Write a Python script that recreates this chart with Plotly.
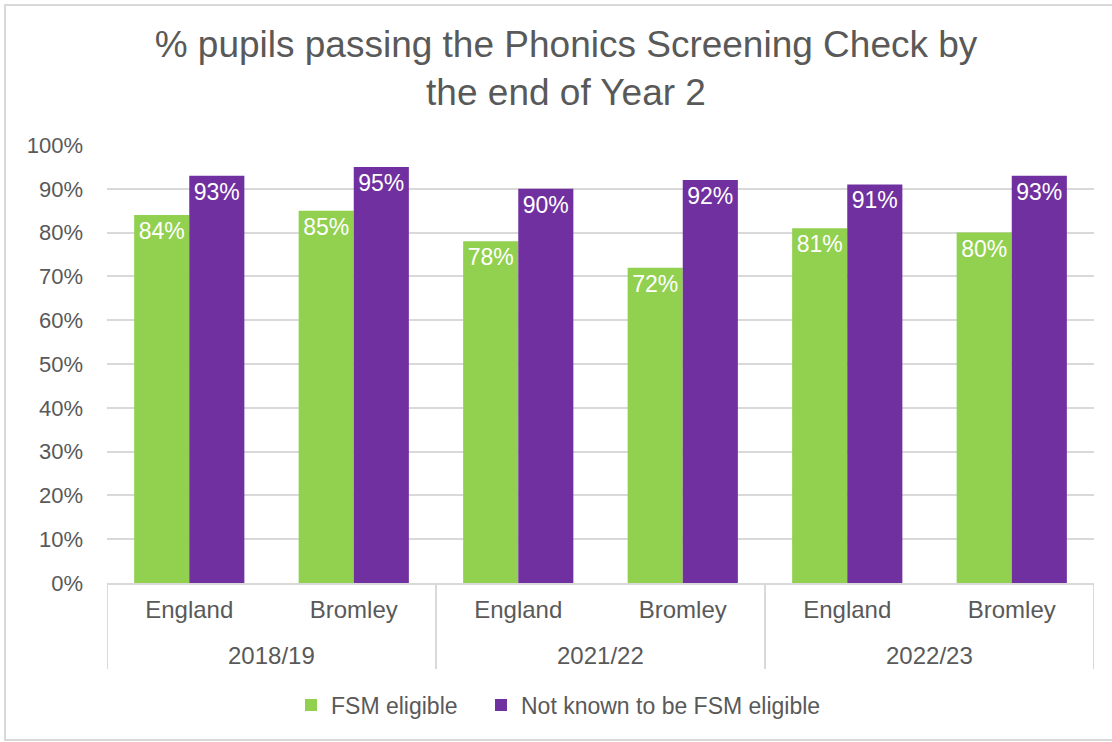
import plotly.graph_objects as go

# Data
years = ["2018/19", "2021/22", "2022/23"]
areas = ["England", "Bromley"]
fsm_eligible = [84, 85, 78, 72, 81, 80]
not_fsm_eligible = [93, 95, 90, 92, 91, 93]
y_ticks = [0, 10, 20, 30, 40, 50, 60, 70, 80, 90, 100]
y_tick_labels = [f"{v}%" for v in y_ticks]

GREEN = "#92D050"
PURPLE = "#7030A0"
TEXT = "#595959"
GRID = "#D9D9D9"
FONT = "Liberation Sans, Arial, sans-serif"

# one slot per (year, area) pair, grouped by year
n_areas = len(areas)
slot_labels = [a for _ in years for a in areas]
slots = list(range(len(slot_labels)))

fig = go.Figure()
for name, vals, colour, leg in [
    ("FSM eligible", fsm_eligible, GREEN, "legend"),
    ("Not known to be FSM eligible", not_fsm_eligible, PURPLE, "legend2"),
]:
    fig.add_trace(go.Bar(
        x=slots,
        y=vals,
        name=name,
        legend=leg,
        showlegend=True,
        marker=dict(color=colour, line=dict(width=0)),
        text=[f"{v}%" for v in vals],
        texttemplate="%{text}",
        textposition="inside",
        insidetextanchor="end",
        textangle=0,
        constraintext="none",
        textfont=dict(color="white", size=23, family=FONT),
        hoverinfo="skip",
    ))

W, H = 1112, 742
L, R, T, B = 107, 18, 145, 159
pw, ph = W - L - R, H - T - B

def px_x(x):
    return (x - L) / pw

def px_y(y):
    return (H - B - y) / ph

shapes = [
    # chart frame
    dict(
        type="rect", xref="paper", yref="paper",
        x0=px_x(5), x1=px_x(W + 5), y0=px_y(740), y1=px_y(5),
        line=dict(color=GRID, width=2), fillcolor="rgba(0,0,0,0)", layer="below",
    )
]
# year-group dividers below the category axis
for k in range(len(years) + 1):
    xd = k * n_areas - 0.5
    shapes.append(dict(
        type="line", xref="x", yref="paper",
        x0=xd, x1=xd, y0=0, y1=px_y(669),
        line=dict(color=GRID, width=2),
    ))

annotations = []
for k, yr in enumerate(years):
    annotations.append(dict(
        x=k * n_areas + (n_areas - 1) / 2, xref="x",
        y=px_y(655), yref="paper",
        text=yr, showarrow=False,
        xanchor="center", yanchor="middle",
        font=dict(size=24, color=TEXT, family=FONT),
    ))

legend_style = dict(
    orientation="h",
    xref="paper",
    xanchor="left",
    y=px_y(705),
    yanchor="middle",
    font=dict(size=23, color=TEXT),
    itemwidth=30,
    bgcolor="rgba(0,0,0,0)",
    visible=True,
)

fig.update_layout(
    width=W,
    height=H,
    margin=dict(l=L, r=R, t=T, b=B, autoexpand=False),
    paper_bgcolor="white",
    plot_bgcolor="white",
    showlegend=True,
    barmode="group",
    bargap=0.33,
    bargroupgap=0,
    font=dict(family=FONT, color=TEXT, size=22),
    title=dict(
        text="% pupils passing the Phonics Screening Check by<br>the end of Year 2",
        x=566 / W,
        xanchor="center",
        xref="container",
        y=1 - 57 / H,
        yanchor="middle",
        font=dict(size=37, color=TEXT, family=FONT),
    ),
    xaxis=dict(
        range=[-0.5, len(slots) - 0.5],
        tickvals=slots,
        ticktext=slot_labels,
        showline=True,
        linecolor=GRID,
        linewidth=2,
        showgrid=False,
        zeroline=False,
        ticks="",
        tickangle=0,
        ticklabelstandoff=4,
        tickfont=dict(size=24, color=TEXT),
    ),
    yaxis=dict(
        range=[0, 100],
        tickvals=y_ticks,
        ticktext=y_tick_labels,
        showgrid=True,
        gridcolor=GRID,
        gridwidth=2,
        zeroline=False,
        showline=False,
        ticks="",
        ticklabelstandoff=23,
        tickfont=dict(size=22, color=TEXT),
    ),
    legend=dict(legend_style, x=px_x(291)),
    legend2=dict(legend_style, x=px_x(481)),
    shapes=shapes,
    annotations=annotations,
)

fig.write_html("out.html")
